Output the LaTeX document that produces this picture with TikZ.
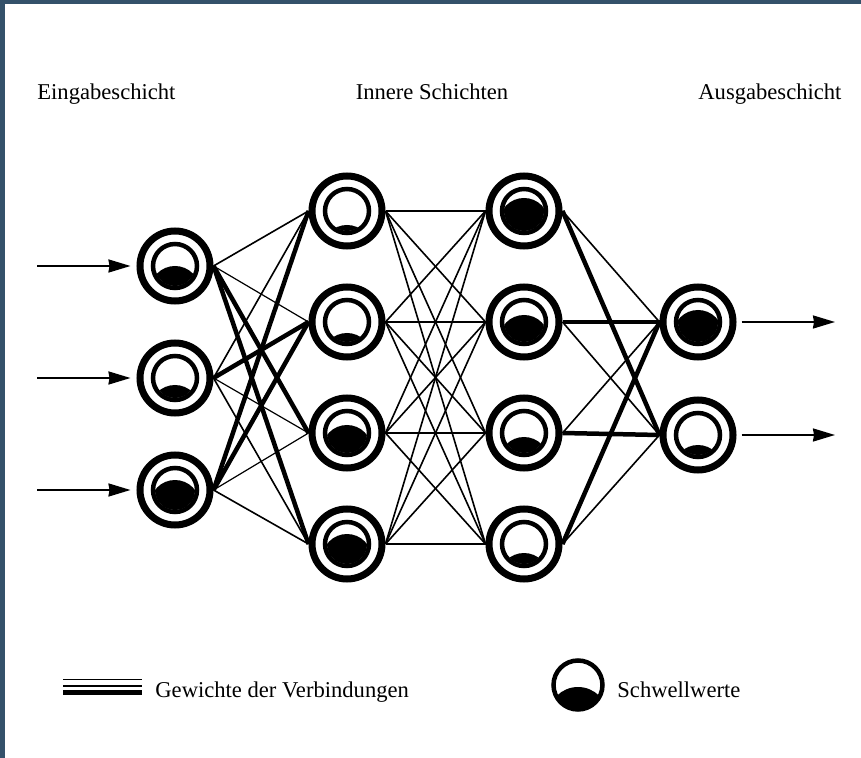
\documentclass[tikz,border=0pt]{standalone}
\usepackage{fontspec}
\setmainfont{Liberation Serif}
\usetikzlibrary{arrows.meta}
\definecolor{framegray}{RGB}{52,81,106}

\tikzset{
  % neuron: outer ring, inner ring, threshold fill (#1 = level of the fill)
  neuron/.style={circle, draw, line width=3.5pt, minimum size=35pt, inner sep=0pt, fill=white,
    path picture={
      \begin{scope}[shift={(path picture bounding box.center)}]
        \begin{scope}
          \clip (0,0) circle (20);
          \fill[black] (0,{25-#1}) circle (25);
        \end{scope}
        \draw[black, line width=2.25pt] (0,0) circle (22);
      \end{scope}
    }},
  weak/.style={line width=0.6pt},
  plain/.style={line width=0.8pt},
  strong/.style={line width=2.25pt},
  signal/.style={-{Stealth[length=11pt, width=6.5pt, inset=0.5pt]}, line width=1pt},
  label/.style={font=\fontsize{11.3}{13}\selectfont, inner sep=0pt}
}

\begin{document}
\begin{tikzpicture}[x=0.5pt, y=-0.5pt]

    \useasboundingbox (0,0) rectangle (861,758);

    % frame on the left and top edge:
    \fill[framegray] (0,0) rectangle (5,758);
    \fill[framegray] (0,0) rectangle (861,4);

    % layer titles:
    \node[label, anchor=base west] (tin) at (37,100) {Eingabeschicht};
    \node[label, anchor=base] (thid) at (432,100) {Innere Schichten};
    \node[label, anchor=base west] (tout) at (698,100) {Ausgabeschicht};

    % the four layers of neurons:
    \foreach \n/\y/\l in {1/266/0, 2/378/-7, 3/490/10}
        \node[neuron=\l] (i\n) at (175,\y) {};
    \foreach \n/\y/\l in {1/211/-14, 2/322/-11, 3/433/8, 4/544/10}
        \node[neuron=\l] (h\n) at (347,\y) {};
    \foreach \n/\y/\l in {1/211/13, 2/322/7, 3/433/-4, 4/544/-9}
        \node[neuron=\l] (k\n) at (524,\y) {};
    \foreach \n/\y/\l in {1/322/12, 2/435/-10}
        \node[neuron=\l] (o\n) at (698,\y) {};

    % weights input -> first hidden layer:
    \foreach \a/\b/\w in {1/1/plain, 1/2/weak, 1/3/strong, 1/4/strong,
                          2/1/plain, 2/2/strong, 2/3/weak, 2/4/plain,
                          3/1/strong, 3/2/strong, 3/3/weak, 3/4/plain}
        \draw[\w] (i\a.east) -- (h\b.west);

    % weights between the hidden layers:
    \foreach \a in {1,...,4}
        \foreach \b in {1,...,4}
            \draw[plain] (h\a.east) -- (k\b.west);

    % weights last hidden layer -> output:
    \foreach \a/\b/\w in {1/1/plain, 1/2/strong, 2/1/strong, 2/2/plain,
                          3/1/plain, 3/2/strong, 4/1/strong, 4/2/plain}
        \draw[\w] (k\a.east) -- (o\b.west);

    % input and output signals:
    \foreach \n/\y in {1/266, 2/378, 3/490} {
        \coordinate (x\n) at (37,\y);
        \draw[signal, shorten >=3pt] (x\n) -- (i\n.west);
    }
    \foreach \n/\y in {1/322, 2/435} {
        \coordinate (y\n) at (835,\y);
        \draw[signal, shorten <=2.5pt] (o\n.east) -- (y\n);
    }

    % legend: weights
    \draw[line width=0.75pt] (63,679.5) -- (142,679.5);
    \draw[line width=1.25pt] (63,686) -- (142,686);
    \draw[line width=2.25pt] (63,692.5) -- (142,692.5);
    \node[label, anchor=base west] (lw) at (155,697) {Gewichte der Verbindungen};

    % legend: thresholds
    \begin{scope}
        \clip (578,685) circle (23);
        \fill (578,{685+2+30}) circle (30);
    \end{scope}
    \draw[line width=2.25pt] (578,685) circle (24.5);
    \node[label, anchor=base west] (lt) at (617,697) {Schwellwerte};

\end{tikzpicture}
\end{document}
